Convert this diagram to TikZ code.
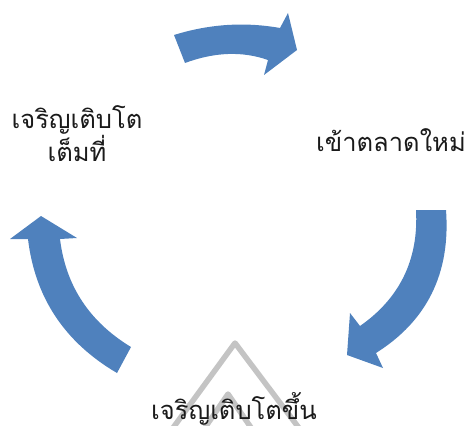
\documentclass[tikz,border=0pt]{standalone}
\usepackage{fontspec}
\newfontfamily\thaifont[Script=Thai]{Loma}
\definecolor{arrowblue}{HTML}{4F81BD}
\definecolor{wmgrey}{HTML}{C4C4C4}
\definecolor{txt}{HTML}{1A1A1A}
\tikzset{
  cyclearrow/.style={fill=arrowblue, draw=none},
  watermark/.style={draw=wmgrey, line width=5.5pt, line cap=round, line join=round},
  label/.style={font=\thaifont\fontsize{25.5}{30}\selectfont, text=txt, align=center, inner sep=0pt}
}
\begin{document}
\begin{tikzpicture}[x=1pt,y=-1pt]
\useasboundingbox (0,0) rectangle (465,425);
% watermark
\draw[watermark] (170,432) -- (235,343) -- (302,432);
\draw[watermark] (202,432) -- (228,394) -- (254,432);
\draw[draw=wmgrey, line width=3pt] (396,428) arc[start angle=150, end angle=30, radius=12];
% top arrow
\fill[cyclearrow] (174,35) .. controls (209.3,24) and (244.7,21.7) .. (280,28)
  -- (288,13) -- (297,50) -- (264,75) -- (268,60)
  .. controls (242.3,51) and (214.7,52) .. (185,63) -- cycle;
% right arrow
\fill[cyclearrow] (446,210) .. controls (450.7,273) and (427.3,320.7) .. (376,353)
  -- (383,368) -- (347,355) -- (350,313) -- (360,326)
  .. controls (400,298) and (418.7,259.3) .. (416,210) -- cycle;
% left arrow
\fill[cyclearrow] (117,373) .. controls (64.7,342.3) and (35,297.7) .. (28,239)
  -- (10,239) -- (41,216) -- (77,238) -- (60,239)
  .. controls (65.7,285.7) and (89.3,321.7) .. (131,347) -- cycle;
% labels
\node[label] (mature) at (77,134) {เจริญเติบโต\\เต็มที่};
\node[label] (newmarket) at (391,140) {เข้าตลาดใหม่};
\node[label] (grow) at (234,409) {เจริญเติบโตขึ้น};
\end{tikzpicture}
\end{document}
